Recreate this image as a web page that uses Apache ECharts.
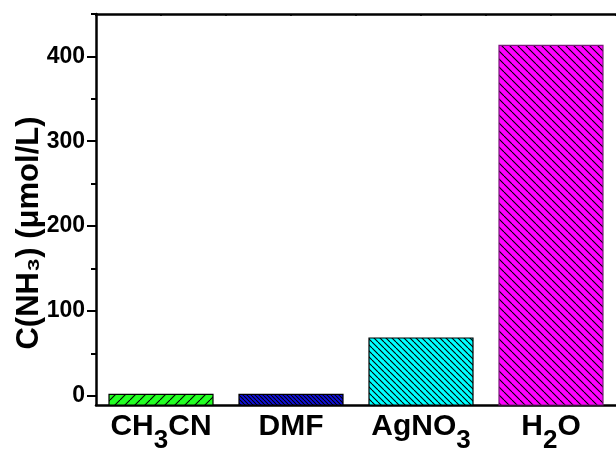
<!DOCTYPE html>
<html><head><meta charset="utf-8">
<script src="https://cdn.jsdelivr.net/npm/echarts@6/dist/echarts.min.js"></script>
<style>html,body{margin:0;padding:0;background:#fff}#c{width:616px;height:454px}</style>
</head><body><div id="c"></div>
<script>
const categories = ['CH3CN', 'DMF', 'AgNO3', 'H2O'];
const values = [1.5, 1.5, 68, 413];
const yTicks = [0, 100, 200, 300, 400];
const yMinorTicks = [50, 150, 250, 350, 450];
const yMin = -11, yMax = 450;

const FONT = 'Arial, "Liberation Sans", sans-serif';
const barStyles = [
  {color: '#22ff22', dir: '/', step: 10, stroke: '#000'},
  {color: '#1010dd', dir: '\\', step: 4, stroke: '#000'},
  {color: '#00ffff', dir: '\\', step: 6, stroke: '#000'},
  {color: '#ff00ff', dir: '\\', step: 8, stroke: '#7a1a7a'}
];
function makePattern(color, dir, s) {
  const c = document.createElement('canvas');
  c.width = s; c.height = s;
  const g = c.getContext('2d');
  g.fillStyle = color; g.fillRect(0, 0, s, s);
  g.strokeStyle = '#000'; g.lineWidth = 1.1;
  for (let k = -1; k <= 1; k++) {
    g.beginPath();
    if (dir === '\\') { g.moveTo(k * s, 0); g.lineTo(k * s + s, s); }
    else { g.moveTo(k * s, s); g.lineTo(k * s + s, 0); }
    g.stroke();
  }
  return c;
}
const patterns = barStyles.map(b => makePattern(b.color, b.dir, b.step));

const labelRich = {
  a: {fontSize: 30, fontWeight: 'bold', fontFamily: FONT, color: '#000', lineHeight: 32, verticalAlign: 'top'},
  s: {fontSize: 26, fontWeight: 'bold', fontFamily: FONT, color: '#000', lineHeight: 28, verticalAlign: 'top', padding: [16, 0, 0, 0]}
};
function fmtLabel(v) {
  return '{a|' + v.replace(/(\d)/g, '}{s|$1}{a|') + '}';
}

const chart = echarts.init(document.getElementById('c'), null, {renderer: 'canvas'});
chart.setOption({
  animation: false,
  grid: {left: 96, top: 14, bottom: 48, right: -3, containLabel: false},
  xAxis: [
    {type: 'category', data: categories, position: 'bottom',
     axisLine: {onZero: false, lineStyle: {color: '#000', width: 2.5}},
     axisTick: {length: 4, lineStyle: {color: '#000', width: 2}},
     axisLabel: {show: false}},
    {type: 'category', data: categories, position: 'bottom',
     axisLine: {show: false, onZero: false},
     axisTick: {alignWithLabel: true, length: 7, lineStyle: {color: '#000', width: 2}},
     axisLabel: {margin: 7, verticalAlign: 'top', formatter: fmtLabel, rich: labelRich}},
    {type: 'value', min: 0, max: 8, interval: 1, position: 'top',
     axisLine: {show: true, onZero: false, lineStyle: {color: '#000', width: 2.5}},
     axisTick: {show: true, inside: true, length: 2, lineStyle: {color: '#000', width: 1.5}},
     axisLabel: {show: false}, splitLine: {show: false}}
  ],
  yAxis: [
    {type: 'value', min: yMin, max: yMax, position: 'left',
     axisLine: {show: true, onZero: false, lineStyle: {color: '#000', width: 2.5}},
     axisTick: {show: true, length: 9, customValues: yTicks, lineStyle: {color: '#000', width: 2}},
     axisLabel: {customValues: yTicks, margin: 11, fontSize: 23, fontWeight: 'bold', fontFamily: FONT, color: '#000'},
     splitLine: {show: false}},
    {type: 'value', min: yMin, max: yMax, position: 'left', offset: 0,
     axisLine: {show: false, onZero: false},
     axisTick: {show: true, length: 5, customValues: yMinorTicks, lineStyle: {color: '#000', width: 2}},
     axisLabel: {show: false}, splitLine: {show: false}}
  ],
  graphic: [{
    type: 'text', x: 29.5, y: 233, rotation: Math.PI / 2,
    style: {text: 'C(NH₃) (μmol/L)', fontSize: 31, fontWeight: 'bold', fontFamily: FONT,
            fill: '#000', align: 'center', verticalAlign: 'middle'}
  }],
  series: [{
    type: 'custom', xAxisIndex: 0, yAxisIndex: 0,
    data: categories.map((c, i) => [i, values[i]]),
    encode: {x: 0, y: 1},
    renderItem: function (params, api) {
      const i = api.value(0);
      const top = api.coord([i, api.value(1)]);
      const base = api.coord([i, yMin]);
      const w = api.size([1, 0])[0] * 0.8;
      const st = barStyles[i];
      return {
        type: 'rect',
        shape: {x: top[0] - w / 2, y: top[1], width: w, height: base[1] - top[1]},
        style: {fill: {image: patterns[i], repeat: 'repeat'}, stroke: st.stroke, lineWidth: 1.2}
      };
    }
  }]
});
</script></body></html>
